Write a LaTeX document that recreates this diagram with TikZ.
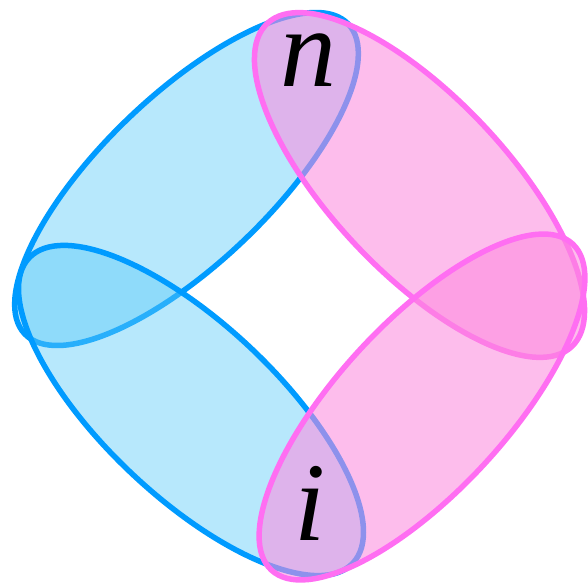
\documentclass[tikz,border=0pt]{standalone}
\usepackage{fontspec}
\setmainfont{Liberation Serif}
\definecolor{bluefill}{RGB}{92,202,248}
\definecolor{blueline}{RGB}{0,155,255}
\definecolor{pinkfill}{RGB}{252,138,222}
\definecolor{pinkline}{RGB}{255,110,242}
\tikzset{
  bluefillst/.style={fill=bluefill, fill opacity=0.44},
  blueedge/.style={draw=blueline, line width=5.5pt},
  pinkfillst/.style={fill=pinkfill, fill opacity=0.56},
  pinkedge/.style={draw=pinkline, line width=5.5pt},
  letter/.style={font=\fontsize{112}{112}\selectfont\itshape, inner sep=0pt, text=black}
}
\begin{document}
\begin{tikzpicture}[x=1pt,y=1pt]
\useasboundingbox (0,0) rectangle (588,586);
% upper-left blue
\begin{scope}[rotate around={43.8:(186.5,407)}]
\path[bluefillst] (186.5,407) ellipse [x radius=224, y radius=84];
\path[blueedge] (186.5,407) ellipse [x radius=224, y radius=84];
\end{scope}
% lower-left blue
\begin{scope}[rotate around={-43.3:(191,175.5)}]
\path[bluefillst] (191,175.5) ellipse [x radius=222.5, y radius=86.5];
\path[blueedge] (191,175.5) ellipse [x radius=222.5, y radius=86.5];
\end{scope}
% upper-right pink
\begin{scope}[rotate around={-46.7:(419.5,401)}]
\path[pinkfillst] (419.5,401) ellipse [x radius=222, y radius=87.5];
\path[pinkedge] (419.5,401) ellipse [x radius=222, y radius=87.5];
\end{scope}
% lower-right pink
\begin{scope}[rotate around={47.3:(422,179)}]
\path[pinkfillst] (422,179) ellipse [x radius=222, y radius=84.5];
\path[pinkedge] (422,179) ellipse [x radius=222, y radius=84.5];
\end{scope}
\node[letter] (n) at (308,526) {n};
\node[letter] (i) at (310,82.5) {i};
\end{tikzpicture}
\end{document}
